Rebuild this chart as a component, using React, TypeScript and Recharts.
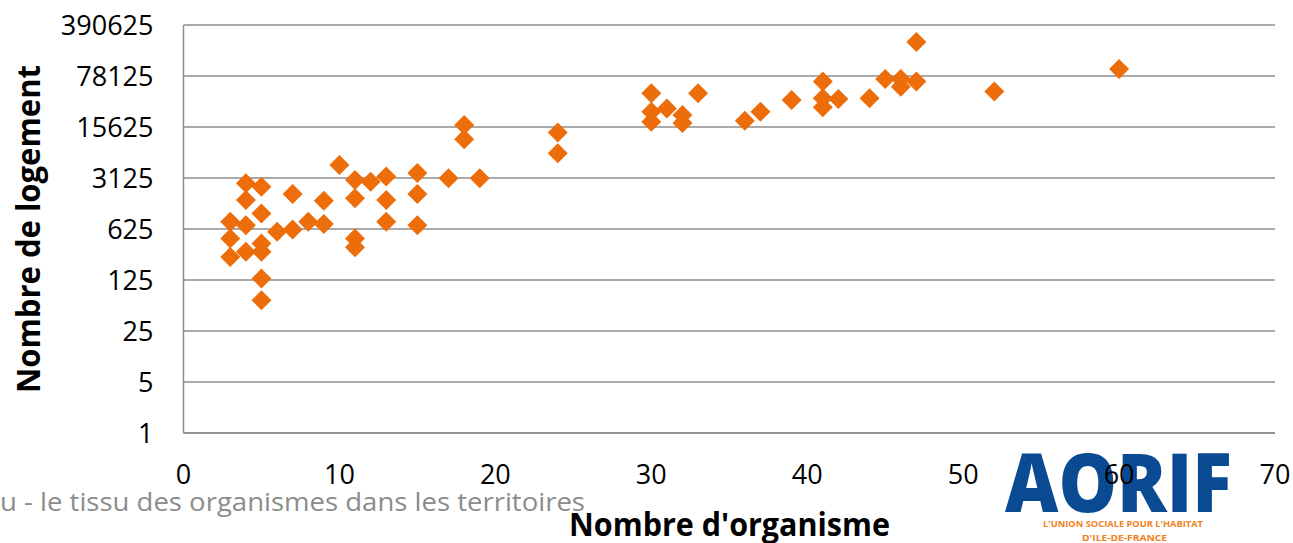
import React from 'react';
import { ScatterChart, Scatter, XAxis, YAxis, CartesianGrid } from 'recharts';

// Nombre d'organisme (x) and Nombre de logement (y) for each territory
const organismes = [
  3, 3, 3,
  4, 4, 4, 4,
  5, 5, 5, 5, 5, 5,
  6,
  7, 7,
  8,
  9, 9,
  10,
  11, 11, 11, 11,
  12,
  13, 13, 13,
  15, 15, 15,
  17,
  18, 18,
  19,
  24, 24,
  30, 30, 30,
  31,
  32, 32,
  33,
  36,
  37,
  39,
  41, 41, 41,
  42,
  44,
  45,
  46, 46,
  47, 47,
  52,
  60,
];
const logements = [
  784, 464, 259,
  2640, 1560, 706, 304,
  2375, 1023, 396, 304, 131, 66,
  572,
  1890, 615,
  784,
  1525, 729,
  4710,
  2930, 1645, 464, 350,
  2780,
  3280, 1560, 784,
  3670, 1890, 706,
  3100,
  16700, 10600,
  3100,
  13100, 6810,
  45200, 25300, 18500,
  28100,
  22900, 17700,
  45200,
  19000,
  25300,
  36700,
  65500, 38800, 29200,
  37800,
  38800,
  70900,
  70900, 55800,
  65500, 229000,
  47800,
  97700,
];
const xTicks = [0, 10, 20, 30, 40, 50, 60, 70];
const yTicks = [1, 5, 25, 125, 625, 3125, 15625, 78125, 390625];

const points = organismes.map((x, i) => ({ x, y: logements[i] }));

const ORANGE = '#ED6D0A';
const GRID = '#8e8e8e';
const FONT = "'Open Sans', 'Liberation Sans', sans-serif";

const Diamond = (props: any) => {
  const { cx, cy } = props;
  if (cx == null || cy == null) return null;
  const r = 10;
  return (
    <polygon
      points={`${cx},${cy - r} ${cx + r},${cy} ${cx},${cy + r} ${cx - r},${cy}`}
      fill={ORANGE}
    />
  );
};

export default function App() {
  return (
    <div style={{ position: 'absolute', left: 0, top: 0, width: 1293, height: 543, background: '#fff' }}>
      <svg
        width={1293}
        height={543}
        style={{ position: 'absolute', left: 0, top: 0 }}
      >
        {/* AORIF logo */}
        <text
          x={1005}
          y={512}
          fontFamily={FONT}
          fontWeight={800}
          fontSize={82}
          fill="#0a4a93"
          textLength={227}
          lengthAdjust="spacingAndGlyphs"
        >
          AORIF
        </text>
        <text
          x={1043}
          y={527}
          fontFamily={FONT}
          fontWeight={700}
          fontSize={9.5}
          fill="#f08122"
          textLength={160}
          lengthAdjust="spacingAndGlyphs"
        >
          L'UNION SOCIALE POUR L'HABITAT
        </text>
        <text
          x={1082}
          y={540.5}
          fontFamily={FONT}
          fontWeight={700}
          fontSize={9.5}
          fill="#f08122"
          textLength={85}
          lengthAdjust="spacingAndGlyphs"
        >
          D'ILE-DE-FRANCE
        </text>
        {/* footer */}
        <text
          x={0}
          y={511}
          fontFamily={FONT}
          fontSize={26}
          fill="#8c8c8c"
          textLength={585}
          lengthAdjust="spacingAndGlyphs"
        >
          u - le tissu des organismes dans les territoires
        </text>
        {/* axis titles */}
        <text
          x={569}
          y={536}
          fontFamily={FONT}
          fontWeight={700}
          fontSize={32}
          fill="#000"
          textLength={321}
          lengthAdjust="spacingAndGlyphs"
        >
          Nombre d'organisme
        </text>
        <text
          transform="translate(40,229) rotate(-90)"
          x={0}
          y={0}
          textAnchor="middle"
          fontFamily={FONT}
          fontWeight={700}
          fontSize={32}
          fill="#000"
          textLength={328}
          lengthAdjust="spacingAndGlyphs"
        >
          Nombre de logement
        </text>
      </svg>
      <div style={{ position: 'absolute', left: 0, top: 0 }}>
        <ScatterChart width={1293} height={543} margin={{ top: 25, right: 18, bottom: 0, left: 0 }}>
          <CartesianGrid vertical={false} stroke={GRID} strokeWidth={1.5} />
          <XAxis
            dataKey="x"
            type="number"
            domain={[0, 70]}
            ticks={xTicks}
            interval={0}
            height={110}
            tickSize={0}
            tickMargin={32}
            tickLine={false}
            axisLine={{ stroke: GRID, strokeWidth: 1.5 }}
            tick={{ fill: '#000', fontSize: 27, fontFamily: FONT }}
          />
          <YAxis
            dataKey="y"
            type="number"
            scale="log"
            domain={[1, 390625]}
            ticks={yTicks}
            interval={0}
            allowDataOverflow
            width={183.5}
            tickSize={0}
            tickMargin={30}
            tickLine={false}
            axisLine={{ stroke: GRID, strokeWidth: 1.5 }}
            tick={{ fill: '#000', fontSize: 27, fontFamily: FONT }}
          />
          <Scatter data={points} shape={<Diamond />} isAnimationActive={false} />
        </ScatterChart>
      </div>
    </div>
  );
}
